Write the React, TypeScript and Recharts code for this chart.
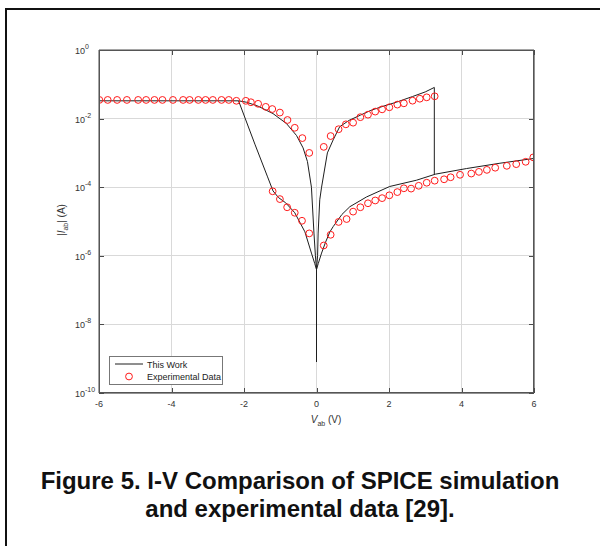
import React from 'react';
import { ComposedChart, Line, Scatter, XAxis, YAxis, CartesianGrid } from 'recharts';

// "This Work" (SPICE) — read branch by branch, V in volts, |I| in amps
const flatV = [-6, -2.15];
const flatI = [3.3e-2, 3.3e-2];

// steep lower branch, negative side
const negLowV = [-2.15, -1.7, -1.35, -1.2, -1.05, -0.85, -0.6, -0.32, -0.14, -0.05, 0];
const negLowI = [3.3e-2, 1.8e-3, 2.0e-4, 7.8e-5, 5.0e-5, 3.5e-5, 1.8e-5, 5.0e-6, 1.2e-6, 6e-7, 4e-7];

// curved upper branch, negative side
const negHighV = [-2.15, -1.93, -1.61, -1.2, -0.83, -0.55, -0.37, -0.25, -0.14, -0.07, -0.03, 0];
const negHighI = [3.3e-2, 3.0e-2, 2.3e-2, 1.4e-2, 7.2e-3, 3.2e-3, 1.4e-3, 5.6e-4, 1.0e-4, 4.6e-6, 1.0e-6, 4e-7];

// upper branch, positive side, with the drop at 3.25 V
const posHighV = [0, 0.03, 0.045, 0.09, 0.14, 0.3, 0.46, 0.64, 0.9, 1.21, 1.5, 1.81, 2.2, 2.65, 3.0, 3.25, 3.25];
const posHighI = [4e-7, 1.0e-6, 4.6e-6, 4.3e-5, 1.0e-4, 1.0e-3, 2.4e-3, 5.8e-3, 8.9e-3, 1.26e-2, 1.74e-2, 2.24e-2, 3.0e-2, 4.4e-2, 6.0e-2, 8.1e-2, 2.4e-4];

// lower branch, positive side
const posLowV = [0, 0.05, 0.14, 0.25, 0.37, 0.46, 0.7, 0.92, 1.38, 2.02, 2.76, 3.28, 4.14, 5.06, 6];
const posLowI = [4e-7, 6e-7, 1.2e-6, 2.5e-6, 5.0e-6, 7.1e-6, 1.6e-5, 2.7e-5, 5.2e-5, 1.05e-4, 1.6e-4, 2.4e-4, 3.5e-4, 5.0e-4, 6.9e-4];

// dip at 0 V
const spikeV = [0, 0];
const spikeI = [4e-7, 8e-10];

// Experimental data
const expFlatV = [-5.99, -5.76, -5.5, -5.23, -4.92, -4.7, -4.47, -4.25, -3.96, -3.68, -3.5, -3.26, -3.06, -2.86, -2.62, -2.42, -2.21];
const expFlatI = [3.5e-2, 3.5e-2, 3.5e-2, 3.5e-2, 3.5e-2, 3.5e-2, 3.5e-2, 3.5e-2, 3.5e-2, 3.5e-2, 3.5e-2, 3.5e-2, 3.5e-2, 3.5e-2, 3.5e-2, 3.5e-2, 3.3e-2];

const expNegHighV = [-1.95, -1.81, -1.61, -1.4, -1.22, -1.01, -0.8, -0.6, -0.39, -0.2];
const expNegHighI = [3.3e-2, 3.0e-2, 2.7e-2, 2.2e-2, 1.9e-2, 1.5e-2, 9.1e-3, 5.4e-3, 2.7e-3, 1.0e-3];

const expNegLowV = [-1.21, -1.01, -0.81, -0.6, -0.4, -0.2];
const expNegLowI = [7.6e-5, 4.5e-5, 2.6e-5, 1.8e-5, 1.05e-5, 4.5e-6];

const expPosHighV = [0.2, 0.39, 0.61, 0.81, 1.01, 1.21, 1.42, 1.62, 1.81, 2.01, 2.23, 2.41, 2.65, 2.85, 3.04, 3.26];
const expPosHighI = [1.5e-3, 3.1e-3, 4.9e-3, 6.8e-3, 7.6e-3, 1.1e-2, 1.3e-2, 1.6e-2, 1.86e-2, 2.14e-2, 2.56e-2, 2.79e-2, 3.33e-2, 3.8e-2, 4.17e-2, 4.47e-2];

const expPosLowV = [0.2, 0.39, 0.61, 0.83, 1.01, 1.21, 1.42, 1.62, 1.81, 2.01, 2.23, 2.41, 2.61, 2.82, 3.04, 3.26, 3.52, 3.7, 3.96, 4.27, 4.48, 4.7, 4.93, 5.25, 5.51, 5.77, 5.98];
const expPosLowI = [2.0e-6, 4.1e-6, 9.7e-6, 1.18e-5, 1.94e-5, 2.6e-5, 3.4e-5, 4.1e-5, 4.8e-5, 5.8e-5, 7.2e-5, 9.3e-5, 9.1e-5, 1.1e-4, 1.35e-4, 1.55e-4, 1.7e-4, 1.95e-4, 2.3e-4, 2.5e-4, 2.8e-4, 3.2e-4, 3.7e-4, 4.2e-4, 4.7e-4, 5.5e-4, 7.4e-4];

const xTicks = [-6, -4, -2, 0, 2, 4, 6];
const yTicks = [1e-10, 1e-8, 1e-6, 1e-4, 1e-2, 1];

const zip = (v: number[], i: number[]) => v.map((x, k) => ({ v: x, i: i[k] }));

const simBranches = [
  zip(flatV, flatI),
  zip(negLowV, negLowI),
  zip(negHighV, negHighI),
  zip(posHighV, posHighI),
  zip(posLowV, posLowI),
  zip(spikeV, spikeI),
];

const expData = [
  ...zip(expFlatV, expFlatI),
  ...zip(expNegHighV, expNegHighI),
  ...zip(expNegLowV, expNegLowI),
  ...zip(expPosHighV, expPosHighI),
  ...zip(expPosLowV, expPosLowI),
];

const AXIS = '#4a4a4a';
const TXT = '#333';
const TICK_LEN = 5;
const FONT = '"Liberation Sans", Arial, Helvetica, sans-serif';

// plot box in the 600x546 page (margins + axis sizes below)
const BOX = { left: 99, top: 50, right: 534, bottom: 393 };

// tick marks point inward, MATLAB style
const BottomTick = (p: any) => (
  <g>
    <rect x={Math.round(p.x)} y={p.y - TICK_LEN} width={1} height={TICK_LEN} fill={AXIS} />
    <text x={p.x} y={p.y + 14} textAnchor="middle" fontSize={9} fill={TXT} fontFamily={FONT}>
      {String(p.payload.value)}
    </text>
  </g>
);

const TopTick = (p: any) => (
  <rect x={Math.round(p.x)} y={p.y} width={1} height={TICK_LEN} fill={AXIS} />
);

const LeftTick = (p: any) => {
  const exp = Math.round(Math.log10(p.payload.value));
  return (
    <g>
      <rect x={p.x} y={Math.round(p.y)} width={TICK_LEN} height={1} fill={AXIS} />
      <text x={p.x - 14} y={p.y + 4} textAnchor="end" fontSize={9} fill={TXT} fontFamily={FONT}>10</text>
      <text x={p.x - 14} y={p.y - 1} textAnchor="start" fontSize={7} fill={TXT} fontFamily={FONT}>{String(exp)}</text>
    </g>
  );
};

const RightTick = (p: any) => (
  <rect x={p.x - TICK_LEN} y={Math.round(p.y)} width={TICK_LEN} height={1} fill={AXIS} />
);

const OpenCircle = (p: any) => (
  <circle cx={p.cx} cy={p.cy} r={3.4} fill="none" stroke="#ff1a1a" strokeWidth={1} />
);

export default function App() {
  return (
    <div
      style={{
        position: 'fixed',
        left: 0,
        top: 0,
        width: 600,
        height: 546,
        overflow: 'hidden',
        background: '#fff',
        fontFamily: FONT,
      }}
    >
      {/* page frame, only top/left edges are visible */}
      <div
        style={{
          position: 'absolute',
          left: 5,
          top: 8,
          width: 700,
          height: 700,
          border: '2px solid #111',
        }}
      />

      <div style={{ position: 'absolute', left: 0, top: 0 }}>
        <ComposedChart width={600} height={546} margin={{ top: 49, right: 65, bottom: 123, left: 49 }}>
          <CartesianGrid
            stroke="#d9d9d9"
            strokeWidth={1}
            verticalValues={xTicks}
            horizontalValues={yTicks}
            shapeRendering="crispEdges"
          />
          <XAxis
            type="number"
            dataKey="v"
            domain={[-6, 6]}
            ticks={xTicks}
            interval={0}
            allowDataOverflow
            height={30}
            tickSize={0}
            tickMargin={0}
            tickLine={false}
            axisLine={{ stroke: AXIS }}
            tick={BottomTick}
          />
          <XAxis
            xAxisId="top"
            orientation="top"
            type="number"
            dataKey="v"
            domain={[-6, 6]}
            ticks={xTicks}
            interval={0}
            allowDataOverflow
            height={1}
            tickSize={0}
            tickMargin={0}
            tickLine={false}
            axisLine={{ stroke: AXIS }}
            tick={TopTick}
          />
          <YAxis
            dataKey="i"
            scale="log"
            type="number"
            domain={[1e-10, 1]}
            ticks={yTicks}
            interval={0}
            allowDataOverflow
            width={50}
            tickSize={0}
            tickMargin={0}
            tickLine={false}
            axisLine={{ stroke: AXIS }}
            tick={LeftTick}
          />
          <YAxis
            yAxisId="right"
            orientation="right"
            dataKey="i"
            scale="log"
            type="number"
            domain={[1e-10, 1]}
            ticks={yTicks}
            interval={0}
            allowDataOverflow
            width={1}
            tickSize={0}
            tickMargin={0}
            tickLine={false}
            axisLine={{ stroke: AXIS }}
            tick={RightTick}
          />
          {/* invisible series so the mirrored top/right axes get drawn */}
          <Line
            data={zip(flatV, flatI)}
            xAxisId="top"
            yAxisId="right"
            dataKey="i"
            stroke="none"
            dot={false}
            activeDot={false}
            isAnimationActive={false}
          />
          {simBranches.map((d, k) => (
            <Line
              key={k}
              data={d}
              dataKey="i"
              type="linear"
              stroke="#1e1e1e"
              strokeWidth={1}
              dot={false}
              activeDot={false}
              isAnimationActive={false}
            />
          ))}
          <Scatter data={expData} dataKey="i" shape={OpenCircle} isAnimationActive={false} />
        </ComposedChart>
      </div>

      <svg
        width={600}
        height={546}
        style={{ position: 'absolute', left: 0, top: 0, pointerEvents: 'none' }}
        fontFamily={FONT}
      >
        {/* axes box outline */}
        <rect
          x={BOX.left + 0.5}
          y={BOX.top + 0.5}
          width={BOX.right - BOX.left - 1}
          height={BOX.bottom - BOX.top - 1}
          fill="none"
          stroke="#555"
          strokeWidth={1}
        />

        {/* axis titles */}
        <text x={326} y={423} textAnchor="middle" fontSize={10} fill={TXT}>
          <tspan fontStyle="italic">V</tspan>
          <tspan fontSize={7} dy={3}>ab</tspan>
          <tspan dy={-3}> (V)</tspan>
        </text>
        <text x={65} y={220} textAnchor="middle" fontSize={10} fill={TXT} transform="rotate(-90 65 220)">
          |<tspan fontStyle="italic">I</tspan>
          <tspan fontSize={7} dy={3}>ab</tspan>
          <tspan dy={-3}>| (A)</tspan>
        </text>

        {/* legend */}
        <rect x={109.5} y={356.5} width={113} height={28} fill="#fff" stroke="#777" />
        <line x1={115} y1={364} x2={143} y2={364} stroke="#1e1e1e" />
        <text x={147} y={367.5} fontSize={9} fill="#222">This Work</text>
        <circle cx={129} cy={376.5} r={3.4} fill="none" stroke="#ff1a1a" />
        <text x={147} y={380} fontSize={9} fill="#222">Experimental Data</text>
      </svg>

      <div
        style={{
          position: 'absolute',
          left: 0,
          top: 467,
          width: 600,
          textAlign: 'center',
          fontWeight: 'bold',
          fontSize: 24,
          lineHeight: '28px',
          color: '#111',
        }}
      >
        Figure 5. I-V Comparison of SPICE simulation
        <br />
        and experimental data [29].
      </div>
    </div>
  );
}
